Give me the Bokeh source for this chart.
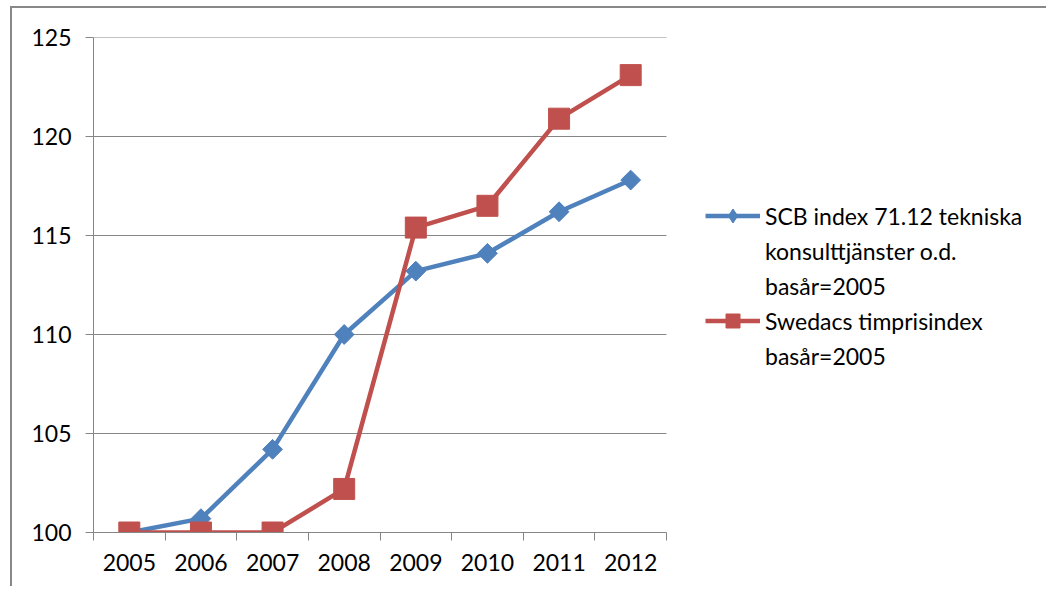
from bokeh.plotting import figure
from bokeh.models import FixedTicker, Legend, LegendItem, Range1d, ColumnDataSource
from bokeh.embed import file_html
from bokeh.resources import INLINE
import numpy as np

years = ["2005", "2006", "2007", "2008", "2009", "2010", "2011", "2012"]
scb_index = [100.0, 100.7, 104.2, 110.0, 113.2, 114.1, 116.2, 117.8]
swedac_index = [100.0, 100.0, 100.0, 102.2, 115.4, 116.5, 120.9, 123.1]
y_ticks = [100, 105, 110, 115, 120, 125]
label_scb = ["SCB index 71.12 tekniska", "konsulttjänster o.d.", "basår=2005"]
label_swedac = ["Swedacs timprisindex", "basår=2005"]

BLUE = "#4F81BD"
RED = "#C0504D"
GRID = "#868686"
FONT = "Lato"
FS = "23px"

n = len(years)
xpos = [i + 0.5 for i in range(n)]
src = ColumnDataSource(dict(x=xpos, scb=scb_index, sw=swedac_index))

# frame spans the legend area too; categories occupy the left 573 px of it
frame_w = 1036 - 81
cat_px = 573 / n
p = figure(width=1036, height=580, output_backend="svg", toolbar_location=None,
           x_range=Range1d(0, frame_w / cat_px), y_range=Range1d(100, 125),
           min_border_left=81, min_border_right=0, min_border_top=29, min_border_bottom=56)
p.outline_line_color = None
p.background_fill_color = "white"
p.border_fill_color = "white"
p.styles = {"border-left": "2px solid #888888", "border-top": "2px solid #888888",
            "margin-left": "10px", "margin-top": "6px"}

# horizontal gridlines limited to the category area
p.xgrid.grid_line_color = None
p.ygrid.grid_line_color = None
p.segment(x0=[0] * len(y_ticks), x1=[n] * len(y_ticks), y0=y_ticks, y1=y_ticks,
          line_color=GRID, line_width=1)

# axes
xt = FixedTicker(ticks=xpos, minor_ticks=list(range(n + 1)))
p.xaxis.ticker = xt
p.xaxis.bounds = (0, n)
p.xaxis.major_label_overrides = {x: y for x, y in zip(xpos, years)}
p.xaxis.major_tick_out = 0
p.xaxis.major_tick_in = 0
p.xaxis.minor_tick_out = 8
p.xaxis.minor_tick_in = 0
p.xaxis.minor_tick_line_color = GRID
p.xaxis.axis_line_color = GRID
p.xaxis.major_label_standoff = 13
p.xaxis.major_label_text_font = FONT
p.xaxis.major_label_text_font_size = FS
p.xaxis.major_label_text_color = "#000000"

p.yaxis.ticker = FixedTicker(ticks=y_ticks)
p.yaxis.major_tick_out = 8
p.yaxis.major_tick_in = 0
p.yaxis.minor_tick_out = 0
p.yaxis.minor_tick_in = 0
p.yaxis.major_tick_line_color = GRID
p.yaxis.axis_line_color = GRID
p.yaxis.major_label_standoff = 14
p.yaxis.major_label_text_font = FONT
p.yaxis.major_label_text_font_size = FS
p.yaxis.major_label_text_color = "#000000"

# series
l1 = p.line("x", "scb", source=src, line_color=BLUE, line_width=4.5)
# diamond used for the legend key (hidden under the rotated squares in the plot)
key_diamond = p.scatter("x", "scb", source=src, marker="diamond", size=16,
                        fill_color=BLUE, line_color=BLUE)
m1 = p.scatter("x", "scb", source=src, marker="square", size=14, angle=np.pi / 4,
               fill_color=BLUE, line_color=BLUE)
l2 = p.line("x", "sw", source=src, line_color=RED, line_width=4.5)
m2 = p.scatter("x", "sw", source=src, marker="square", size=21,
               fill_color=RED, line_color=RED)
blank = p.line(x=[], y=[], line_alpha=0)

items = [LegendItem(label=label_scb[0], renderers=[l1, key_diamond])]
items += [LegendItem(label=t, renderers=[blank]) for t in label_scb[1:]]
items += [LegendItem(label=label_swedac[0], renderers=[l2, m2])]
items += [LegendItem(label=t, renderers=[blank]) for t in label_swedac[1:]]

legend = Legend(items=items, location=(612, 159), orientation="vertical")
legend.border_line_color = None
legend.background_fill_alpha = 0
legend.margin = 0
legend.padding = 0
legend.spacing = 0
legend.glyph_width = 55
legend.glyph_height = 35
legend.label_height = 35
legend.label_standoff = 5
legend.label_text_font = FONT
legend.label_text_font_size = FS
legend.label_text_color = "#000000"
p.add_layout(legend)

open("out.html", "w").write(file_html(p, INLINE))
